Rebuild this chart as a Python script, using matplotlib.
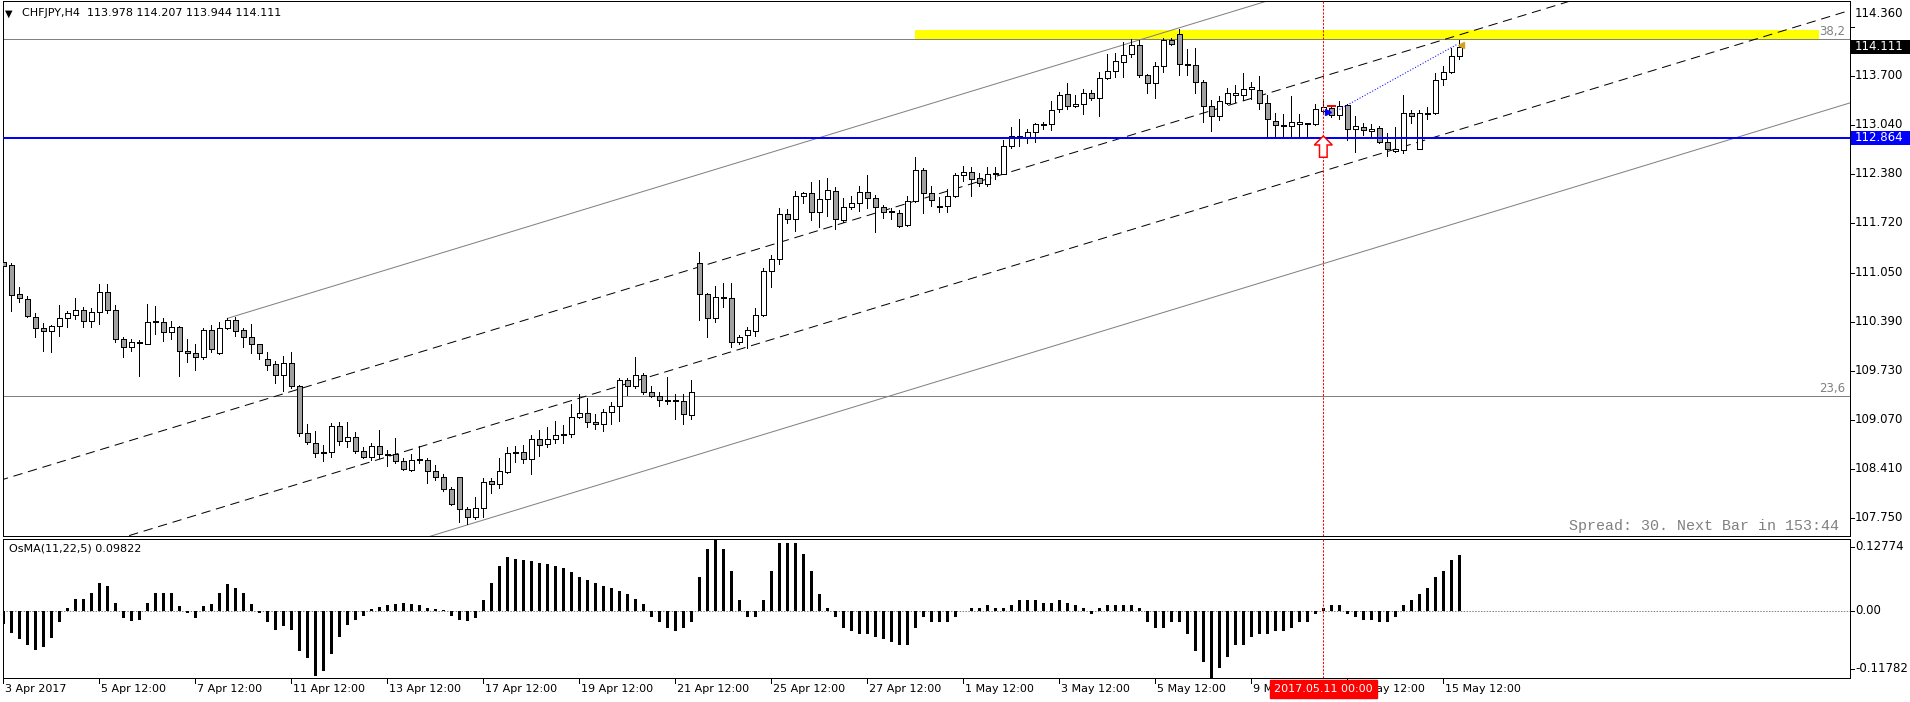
import matplotlib
matplotlib.use("Agg")
import matplotlib.pyplot as plt
import matplotlib.transforms as mtransforms
from matplotlib.patches import Rectangle, Polygon
import numpy as np

# ---------------- data ----------------
symbol = "CHFJPY,H4"
opens = [111.161, 111.115, 110.718, 110.658, 110.412, 110.252, 110.211, 110.279, 110.389, 110.430,
         110.499, 110.348, 110.471, 110.745, 110.499, 110.101, 109.991, 110.055, 110.042, 110.339,
         110.334, 110.197, 110.266, 109.937, 109.909, 109.855, 110.225, 109.909, 110.252, 110.361,
         110.229, 110.129, 110.033, 109.827, 109.759, 109.608, 109.772, 109.467, 108.814, 108.677,
         108.549, 108.553, 108.909, 108.704, 108.759, 108.567, 108.485, 108.640, 108.526, 108.526,
         108.430, 108.307, 108.448, 108.444, 108.293, 108.211, 108.047, 108.211, 107.773, 107.663,
         107.786, 108.156, 108.115, 108.279, 108.554, 108.553, 108.457, 108.731, 108.663, 108.731,
         108.786, 108.800, 109.037, 109.088, 108.964, 108.937, 109.101, 109.184, 109.539, 109.457,
         109.617, 109.375, 109.330, 109.266, 109.261, 109.252, 109.060, 111.142, 110.718, 110.389,
         110.681, 110.663, 110.060, 110.156, 110.211, 110.430, 111.033, 111.198, 111.814, 111.745,
         112.060, 112.102, 111.841, 112.019, 112.129, 111.732, 111.910, 111.965, 112.115, 112.033,
         111.910, 111.855, 111.828, 111.663, 111.992, 112.417, 112.102, 111.919, 111.923, 112.060,
         112.348, 112.389, 112.307, 112.225, 112.375, 112.371, 112.745, 112.882, 112.869, 112.937,
         113.047, 113.047, 113.252, 113.458, 113.293, 113.321, 113.471, 113.403, 113.677, 113.773,
         113.896, 114.006, 114.129, 113.718, 113.608, 113.841, 114.197, 114.280, 113.869, 113.855,
         113.622, 113.293, 113.156, 113.334, 113.444, 113.444, 113.526, 113.513, 113.334, 113.088,
         113.033, 113.019, 113.047, 113.051, 113.047, 113.225, 113.266, 113.170, 113.307, 112.978,
         113.006, 112.951, 112.992, 112.800, 112.677, 112.691, 113.197, 112.704, 113.193, 113.197,
         113.663, 113.759, 113.978]
highs = [111.170, 111.151, 110.814, 110.695, 110.467, 110.320, 110.298, 110.567, 110.489, 110.663,
         110.549, 110.526, 110.864, 110.864, 110.571, 110.138, 110.101, 110.092, 110.581, 110.562,
         110.389, 110.352, 110.279, 110.101, 110.033, 110.252, 110.293, 110.339, 110.389, 110.412,
         110.252, 110.307, 110.037, 109.923, 109.800, 109.868, 109.923, 109.471, 108.937, 108.841,
         108.658, 108.955, 108.964, 108.969, 108.827, 108.622, 108.677, 108.859, 108.585, 108.745,
         108.471, 108.526, 108.640, 108.471, 108.375, 108.252, 108.074, 108.211, 107.809, 107.946,
         108.197, 108.197, 108.471, 108.626, 108.640, 108.654, 108.791, 108.859, 108.905, 108.982,
         108.923, 109.211, 109.348, 109.293, 109.074, 109.142, 109.248, 109.576, 109.576, 109.855,
         109.636, 109.457, 109.375, 109.581, 109.348, 109.348, 109.544, 111.293, 110.732, 110.832,
         110.869, 110.878, 110.156, 110.266, 110.526, 111.074, 111.252, 111.896, 111.882, 112.129,
         112.115, 112.252, 112.280, 112.307, 112.184, 112.033, 112.060, 112.202, 112.348, 112.074,
         111.937, 111.896, 111.869, 112.060, 112.595, 112.444, 112.198, 112.047, 112.156, 112.375,
         112.471, 112.458, 112.375, 112.458, 112.458, 112.828, 113.006, 113.115, 112.978, 113.060,
         113.074, 113.366, 113.485, 113.608, 113.444, 113.526, 113.513, 113.759, 114.006, 114.019,
         114.179, 114.211, 114.197, 113.732, 113.896, 114.225, 114.225, 114.348, 114.074, 114.088,
         113.654, 113.376, 113.430, 113.540, 113.581, 113.745, 113.622, 113.704, 113.444, 113.197,
         113.184, 113.430, 113.184, 113.060, 113.321, 113.362, 113.293, 113.362, 113.321, 113.156,
         113.060, 113.047, 113.019, 112.923, 113.006, 113.444, 113.239, 113.239, 113.280, 113.745,
         113.841, 114.088, 114.207]
lows = [110.951, 110.494, 110.617, 110.407, 110.138, 109.946, 109.932, 110.151, 110.266, 110.384,
        110.266, 110.275, 110.307, 110.467, 110.069, 109.855, 109.937, 109.604, 110.033, 110.179,
        110.083, 110.110, 109.604, 109.795, 109.677, 109.827, 109.923, 109.905, 110.247, 110.151,
        110.001, 109.909, 109.827, 109.677, 109.508, 109.398, 109.439, 108.782, 108.663, 108.494,
        108.439, 108.494, 108.649, 108.622, 108.540, 108.471, 108.448, 108.471, 108.366, 108.403,
        108.311, 108.302, 108.403, 108.128, 108.170, 108.019, 107.827, 107.595, 107.567, 107.636,
        107.672, 107.992, 108.060, 108.275, 108.425, 108.403, 108.252, 108.499, 108.622, 108.677,
        108.677, 108.759, 109.028, 108.896, 108.868, 108.850, 108.941, 108.987, 109.343, 109.430,
        109.348, 109.307, 109.193, 109.220, 109.014, 108.941, 109.015, 110.362, 110.138, 110.334,
        110.540, 109.992, 110.033, 109.978, 110.143, 110.426, 110.814, 111.129, 111.691, 111.590,
        111.965, 111.732, 111.636, 111.786, 111.609, 111.704, 111.882, 111.864, 111.896, 111.567,
        111.759, 111.745, 111.645, 111.650, 111.987, 111.828, 111.923, 111.841, 111.841, 112.047,
        112.266, 112.060, 112.198, 112.198, 112.293, 112.362, 112.718, 112.745, 112.786, 112.800,
        112.978, 112.965, 113.211, 113.252, 113.280, 113.184, 113.376, 113.156, 113.663, 113.691,
        113.691, 113.965, 113.691, 113.471, 113.403, 113.759, 114.129, 113.718, 113.718, 113.476,
        113.083, 112.960, 113.111, 113.321, 113.348, 113.376, 113.389, 113.252, 112.892, 112.892,
        112.892, 112.892, 112.878, 112.878, 113.033, 113.184, 113.152, 113.115, 112.828, 112.663,
        112.896, 112.882, 112.786, 112.608, 112.663, 112.650, 113.060, 112.704, 113.115, 113.184,
        113.581, 113.745, 113.944]
closes = [111.106, 110.704, 110.663, 110.416, 110.252, 110.211, 110.279, 110.389, 110.457, 110.499,
          110.348, 110.471, 110.745, 110.499, 110.101, 109.991, 110.060, 110.046, 110.334, 110.334,
          110.197, 110.266, 109.937, 109.909, 109.855, 110.225, 109.964, 110.252, 110.361, 110.216,
          110.129, 110.033, 109.909, 109.754, 109.608, 109.772, 109.467, 108.814, 108.690, 108.540,
          108.544, 108.909, 108.704, 108.759, 108.567, 108.485, 108.640, 108.531, 108.512, 108.430,
          108.320, 108.444, 108.444, 108.293, 108.211, 108.047, 107.841, 107.773, 107.663, 107.786,
          108.142, 108.115, 108.293, 108.540, 108.544, 108.457, 108.731, 108.649, 108.731, 108.786,
          108.795, 109.033, 109.088, 108.964, 108.937, 109.101, 109.184, 109.539, 109.457, 109.617,
          109.375, 109.330, 109.266, 109.261, 109.257, 109.074, 109.375, 110.718, 110.389, 110.677,
          110.672, 110.060, 110.129, 110.225, 110.430, 111.033, 111.198, 111.814, 111.745, 112.060,
          112.102, 111.841, 112.019, 112.143, 111.745, 111.910, 111.965, 112.115, 112.033, 111.910,
          111.841, 111.846, 111.650, 111.992, 112.417, 112.102, 112.005, 111.910, 112.060, 112.348,
          112.389, 112.293, 112.238, 112.362, 112.366, 112.745, 112.882, 112.878, 112.937, 113.047,
          113.042, 113.239, 113.444, 113.293, 113.321, 113.471, 113.403, 113.677, 113.773, 113.910,
          113.992, 114.129, 113.718, 113.608, 113.841, 114.197, 114.143, 113.869, 113.864, 113.622,
          113.293, 113.156, 113.362, 113.471, 113.471, 113.526, 113.554, 113.334, 113.115, 113.033,
          113.029, 113.074, 113.074, 113.047, 113.252, 113.280, 113.170, 113.293, 112.978, 113.019,
          112.965, 112.978, 112.800, 112.704, 112.704, 113.197, 113.156, 113.197, 113.197, 113.650,
          113.759, 113.978, 114.111]
osma = [-0.023, -0.039, -0.049, -0.060, -0.068, -0.064, -0.048, -0.020,
        0.005, 0.022, 0.022, 0.032, 0.050, 0.044, 0.015,
        -0.012, -0.018, -0.015,
        0.015, 0.032, 0.032, 0.032,
        0.009, -0.004, -0.013,
        0.009, 0.012, 0.032, 0.047, 0.040, 0.031, 0.012,
        -0.004,
        -0.020, -0.033, -0.026, -0.033, -0.071, -0.083,
        -0.115, -0.105, -0.075, -0.045, -0.025, -0.015, -0.008,
        0.004, 0.008, 0.010, 0.012, 0.014, 0.012, 0.010, 0.006, 0.003, 0.001,
        -0.008, -0.015, -0.018, -0.012,
        0.020, 0.050, 0.080, 0.095, 0.092, 0.090, 0.088, 0.085, 0.083, 0.080, 0.075, 0.068,
        0.060, 0.055, 0.050, 0.045, 0.040, 0.035, 0.030, 0.022, 0.012,
        -0.010, -0.020, -0.030, -0.035, -0.030, -0.020,
        0.060, 0.110, 0.1277, 0.110, 0.070,
        0.020, -0.010, -0.010,
        0.020, 0.070, 0.120, 0.120, 0.120, 0.100, 0.070,
        0.030, 0.005, -0.010,
        -0.030, -0.035, -0.040, -0.040, -0.045, -0.050, -0.055, -0.060, -0.060, -0.030,
        -0.010, -0.020, -0.020, -0.020, -0.010, 0.000, 0.005,
        0.005, 0.010, 0.005, 0.005, 0.010, 0.020, 0.020, 0.020, 0.015, 0.015, 0.020, 0.015, 0.010, 0.005,
        -0.005, 0.005, 0.010, 0.010, 0.010, 0.010, 0.005,
        -0.020, -0.030, -0.030, -0.020, -0.020,
        -0.040, -0.070, -0.090, -0.1178,
        -0.100, -0.080, -0.060, -0.060, -0.045, -0.040, -0.040, -0.035, -0.035, -0.030, -0.020, -0.020,
        -0.005, 0.005, 0.010, 0.010,
        -0.005, -0.010, -0.015, -0.015, -0.020, -0.020, -0.010,
        0.010, 0.020, 0.030, 0.040, 0.060, 0.070, 0.090, 0.09822]
osma_name = "OsMA(11,22,5)"
osma_top = 0.12774
osma_bottom = -0.11782

time_tick_bars = [0, 12, 24, 36, 48, 60, 72, 84, 96, 108, 120, 132, 144, 156, 168, 180]
time_tick_labels = ["3 Apr 2017", "5 Apr 12:00", "7 Apr 12:00", "11 Apr 12:00", "13 Apr 12:00",
                    "17 Apr 12:00", "19 Apr 12:00", "21 Apr 12:00", "25 Apr 12:00", "27 Apr 12:00",
                    "1 May 12:00", "3 May 12:00", "5 May 12:00", "9 May 12:00", "11 May 12:00",
                    "15 May 12:00"]
price_ticks = [114.360, 113.700, 113.040, 112.380, 111.720, 111.050, 110.390, 109.730, 109.070,
               108.410, 107.750]

hline_price = 112.864
fib_prices = [114.212, 109.322]
fib_labels = ["38,2", "23,6"]
zone_bars = [113.96, 226.97]
zone_prices = [114.212, 114.339]
channel_slope = 0.03345           # price per bar
upper_dashed_at0 = 108.184
lower_dashed_at0 = 106.887
upper_gray_at0 = 109.452
lower_gray_at0 = 105.619
gray_start_bar = 28
vline_bar = 165
vline_label = "2017.05.11 00:00"
proj_bars = [166.7, 181.8]
proj_prices = [113.232, 114.147]
spread_text = "Spread: 30. Next Bar in 153:44"

# ---------------- layout (pixels) ----------------
W, H, DPI = 1910, 702, 100
PX_L, PX_R = 2.5, 1850.0
MAIN_T, MAIN_B = 0.5, 536.0
IND_T, IND_B = 538.5, 678.0
BAR0_PX, BAR_PX = 3.3, 8.0
TOP_PRICE, PX_PER_PRICE = 114.75, 73.0
LABEL_PX_PER_PRICE = 74.3      # spacing of the price-scale labels
LABEL_ANCHOR_PX = 45.1         # pixel row of the last close on the label scale
PX = 0.72  # one pixel in points

plt.rcParams['font.family'] = ['DejaVu Sans']
plt.rcParams['font.size'] = 8

fig = plt.figure(figsize=(W / DPI, H / DPI), dpi=DPI)
fig.patch.set_facecolor('white')


def rect(top, bottom):
    return [PX_L / W, 1 - bottom / H, (PX_R - PX_L) / W, (bottom - top) / H]


ax = fig.add_axes(rect(MAIN_T, MAIN_B))
ax2 = fig.add_axes(rect(IND_T, IND_B))
xlim = ((PX_L - BAR0_PX) / BAR_PX, (PX_R - BAR0_PX) / BAR_PX)
for a in (ax, ax2):
    a.set_xlim(*xlim)
    a.set_xticks([])
    a.set_yticks([])
    for s in a.spines.values():
        s.set_color('black')
        s.set_linewidth(1.0 * PX)
ax.set_ylim(TOP_PRICE - MAIN_B / PX_PER_PRICE, TOP_PRICE - MAIN_T / PX_PER_PRICE)
ax2.set_ylim(osma_bottom, osma_top)

o = np.array(opens); h = np.array(highs); l = np.array(lows); c = np.array(closes)
n = len(o)
x = np.arange(n)

# ---- zone & fib levels ----
ax.add_patch(Rectangle((zone_bars[0], zone_prices[0]), zone_bars[1] - zone_bars[0],
                       zone_prices[1] - zone_prices[0], facecolor='#FFFF00', edgecolor='none', zorder=1))
for fp in fib_prices:
    ax.axhline(fp, color='#808080', lw=1 * PX, zorder=2)

# ---- channel lines ----
xx = np.array([-5.0, 240.0])
ax.plot(xx, upper_dashed_at0 + channel_slope * xx, color='black', lw=1 * PX,
        dashes=(13 * PX, 8 * PX), zorder=2)
ax.plot(xx, lower_dashed_at0 + channel_slope * xx, color='black', lw=1 * PX,
        dashes=(13 * PX, 8 * PX), zorder=2)
xg = np.array([gray_start_bar, 240.0])
ax.plot(xg, upper_gray_at0 + channel_slope * xg, color='#808080', lw=1 * PX, zorder=2)
ax.plot(xx, lower_gray_at0 + channel_slope * xx, color='#808080', lw=1 * PX, zorder=2)

# ---- candles ----
ax.vlines(x, l, h, color='black', lw=1 * PX, zorder=3, antialiased=False)
body_low = np.minimum(o, c)
body_h = np.maximum(np.abs(c - o), 1.0 / PX_PER_PRICE)
colors = np.where(c >= o, 'white', '#A0A0A0')
ax.bar(x, body_h, bottom=body_low, width=0.625, color=colors, edgecolor='black',
       linewidth=1 * PX, zorder=4, antialiased=False)

# ---- blue horizontal line ----
ax.axhline(hline_price, color='#0000FF', lw=2 * PX, zorder=5)

# ---- vertical red dashed line ----
for a in (ax, ax2):
    a.axvline(vline_bar, color='#FF0000', lw=1 * PX, dashes=(3 * PX, 2 * PX), zorder=6)

# ---- red hollow arrow ----
arrow_tr = mtransforms.IdentityTransform() + mtransforms.ScaledTranslation(vline_bar, hline_price, ax.transData)
arrow = Polygon([(0, 1.7), (9, -7.3), (3.8, -7.3), (3.8, -19.6), (-3.8, -19.6), (-3.8, -7.3), (-9, -7.3)],
                closed=True, facecolor='white', edgecolor='#FF0000', lw=1.5 * PX,
                transform=arrow_tr, zorder=7)
ax.add_patch(arrow)

# ---- projection line ----
ax.plot(proj_bars, proj_prices, color='#0000FF', lw=1 * PX, dashes=(1.5 * PX, 2.5 * PX), zorder=6)
ax.plot([proj_bars[0] - 1.1], [proj_prices[0] - 0.012], marker='>', color='#0000FF', ms=5, zorder=7)
ax.plot([vline_bar + 0.6, vline_bar + 1.5], [highs[166] + 0.005] * 2, color='#FF0000', lw=2 * PX, zorder=7)
ax.plot([proj_bars[1] + 0.4], [proj_prices[1] - 0.01], marker='<', color='#D4A020', ms=5, zorder=7)

# ---- header ----
fig.text(5 / W, 1 - 13.5 / H, "\u25BC", fontsize=7, va='center', ha='left', color='black')
fig.text(21.5 / W, 1 - 13.5 / H,
         f"{symbol}  {opens[-1]:.3f} {highs[-1]:.3f} {lows[-1]:.3f} {closes[-1]:.3f}",
         fontsize=8, va='center', ha='left', color='black')

# ---- fib labels ----
ytr = mtransforms.blended_transform_factory(ax.transAxes, ax.transData)
for fp, fl in zip(fib_prices, fib_labels):
    ax.annotate(fl, xy=(1, fp), xycoords=ytr,
                xytext=(-5, 1), textcoords='offset pixels', ha='right', va='bottom',
                color='#808080', fontsize=8.5)

# ---- spread text ----
fig.text(1839 / W, 1 - 526 / H, spread_text, family='Liberation Mono', fontsize=10.8,
         color='#808080', ha='right', va='center')

# ---- price scale ----


def label_row(p):
    # pixel row of a price label on the terminal's label scale -> price on the plotting scale
    row = LABEL_ANCHOR_PX + (closes[-1] - p) * LABEL_PX_PER_PRICE
    return TOP_PRICE - row / PX_PER_PRICE


for i, p in enumerate(price_ticks):
    dy = 13 if i == 0 else 0
    yp = label_row(p)
    ax.plot([1, 1.0019], [yp, yp], transform=ytr, color='black', lw=1 * PX, clip_on=False)
    ax.annotate(f"{p:.3f}", xy=(1, yp), xycoords=ytr, xytext=(5, dy), textcoords='offset pixels',
                ha='left', va='center', fontsize=8.5, color='black', annotation_clip=False)


def price_box(price, text, face):
    yd = ax.transData.transform((0, price))[1]
    ax.add_patch(Rectangle((PX_R + 1, yd - 7), W - PX_R - 1, 14, transform=mtransforms.IdentityTransform(),
                           facecolor=face, edgecolor='none', zorder=9, clip_on=False))
    ax.annotate(text, xy=(1, price), xycoords=ytr, xytext=(5, 0), textcoords='offset pixels',
                ha='left', va='center', fontsize=8.5, color='white', annotation_clip=False, zorder=10)


price_box(closes[-1], f"{closes[-1]:.3f}", 'black')
price_box(hline_price, f"{hline_price:.3f}", '#0000FF')

# ---- oscillator ----
ax2.bar(x, osma, width=3 / BAR_PX, color='black', linewidth=0, zorder=3, antialiased=False)
ax2.axhline(0, color='#808080', lw=1 * PX, dashes=(2 * PX, 2 * PX), zorder=2)
ax2.text(6 / (PX_R - PX_L), 1 - 10 / (IND_B - IND_T), f"{osma_name} {osma[-1]:.5f}",
         transform=ax2.transAxes, ha='left', va='center', fontsize=8)
ind_labels = [(547.0, f"{osma_top:.5f}"), (610.8, "0.00"), (669.0, f"{osma_bottom:.5f}")]
for yy, t in ind_labels:
    fig.text(1855 / W, 1 - yy / H, t, ha='left', va='center', fontsize=8.5)
    fig.add_artist(plt.Line2D([PX_R / W, (PX_R + 3.5) / W], [1 - yy / H] * 2, color='black', lw=1 * PX))

# ---- time axis ----
xtr = mtransforms.blended_transform_factory(ax2.transData, ax2.transAxes)
for b, t in zip(time_tick_bars, time_tick_labels):
    ax2.plot([b, b], [0, -5 / (IND_B - IND_T)], transform=xtr, color='black', lw=1 * PX, clip_on=False)
    ax2.annotate(t, xy=(b, 0), xycoords=xtr, xytext=(2, -11), textcoords='offset pixels',
                 ha='left', va='center', fontsize=8, annotation_clip=False)
ax2.annotate(vline_label, xy=(vline_bar, 0), xycoords=xtr, xytext=(0, -11), textcoords='offset pixels',
             ha='center', va='center', fontsize=8, color='white', annotation_clip=False, zorder=10,
             bbox=dict(boxstyle='square,pad=0.35', facecolor='#FF0000', edgecolor='#FF0000'))

fig.savefig("out.png", dpi=DPI, facecolor='white')
